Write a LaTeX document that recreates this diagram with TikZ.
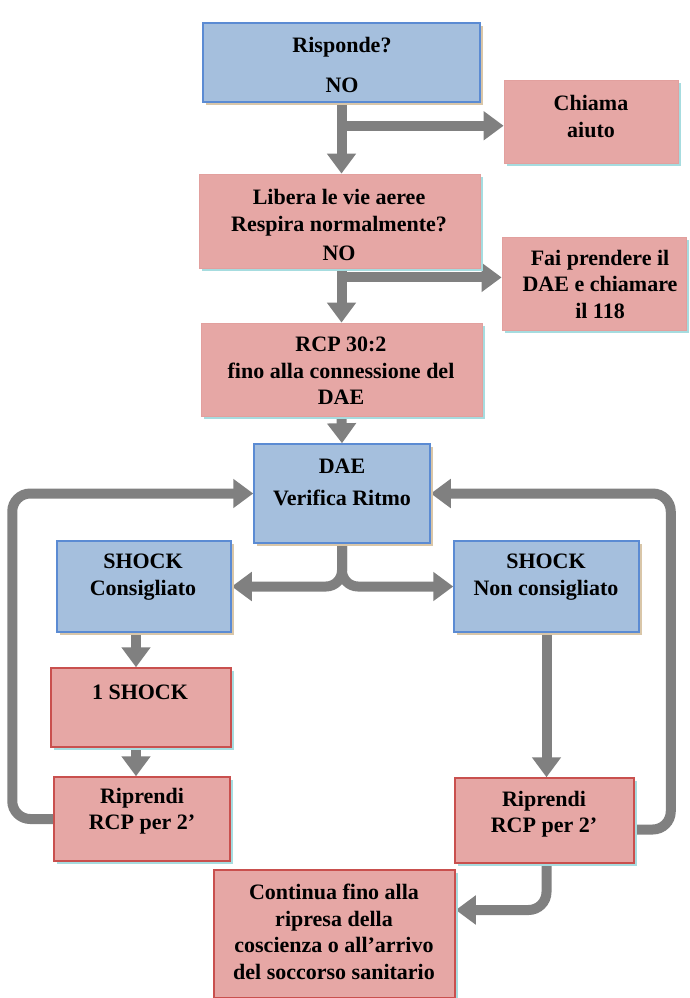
\documentclass[tikz,border=0pt]{standalone}
\usepackage{fontspec}
\setmainfont{Liberation Serif}
\usetikzlibrary{arrows.meta,shadows,backgrounds,calc}
\definecolor{bfill}{HTML}{A5BFDD}
\definecolor{bdraw}{HTML}{5B8BD3}
\definecolor{pfill}{HTML}{E6A7A5}
\definecolor{pedge}{HTML}{E2A09E}
\definecolor{pdraw}{HTML}{C9504E}
\definecolor{tanshadow}{HTML}{D9C6A8}
\definecolor{cyanshadow}{HTML}{A6DCDF}
\definecolor{arrgray}{HTML}{808080}
\tikzset{
  box/.style={rectangle, inner sep=0pt, line width=1.5pt},
  bluebox/.style={box, fill=bfill, draw=bdraw,
    drop shadow={shadow xshift=3pt,shadow yshift=-3pt,fill=tanshadow,opacity=1}},
  pinkbox/.style={box, fill=pfill, draw=pedge, line width=0.8pt,
    drop shadow={shadow xshift=3pt,shadow yshift=-3pt,fill=cyanshadow,opacity=1}},
  redbox/.style={box, fill=pfill, draw=pdraw,
    drop shadow={shadow xshift=3pt,shadow yshift=-3pt,fill=cyanshadow,opacity=1}},
  txt/.style={font=\fontsize{22}{26.5}\selectfont\bfseries, align=center, inner sep=0pt},
  arr/.style={draw=arrgray, line width=10pt, -{Triangle[width=28pt,length=20pt]}},
}
\begin{document}
\begin{tikzpicture}[x=1pt,y=-1pt]
\useasboundingbox (0,0) rectangle (689,998);
% boxes
\node[bluebox, minimum width=277pt, minimum height=79pt] (risp) at (341.5,62.5) {};
\node[pinkbox, minimum width=174pt, minimum height=83pt] (chiama) at (591,121.5) {};
\node[pinkbox, minimum width=281pt, minimum height=94pt] (libera) at (339.5,221) {};
\node[pinkbox, minimum width=184pt, minimum height=93pt] (fai) at (594,283.5) {};
\node[pinkbox, minimum width=281pt, minimum height=93pt] (rcp) at (341.5,369.5) {};
\node[bluebox, minimum width=176pt, minimum height=99pt] (dae) at (342,493.5) {};
\node[bluebox, minimum width=174pt, minimum height=91pt] (sc) at (144,586.5) {};
\node[bluebox, minimum width=185pt, minimum height=91pt] (snc) at (546.5,586.5) {};
\node[redbox, minimum width=180pt, minimum height=79pt] (one) at (141,707.5) {};
\node[redbox, minimum width=176pt, minimum height=84pt] (ripL) at (142,819) {};
\node[redbox, minimum width=179pt, minimum height=85pt] (ripR) at (544.5,820.5) {};
\node[redbox, minimum width=241pt, minimum height=128pt] (cont) at (334.5,934) {};
% texts
\node[txt] (trisp) at (342,65) {Risponde?\\[13.5pt]NO};
\node[txt] (tchiama) at (591,116.5) {Chiama\\aiuto};
\node[txt] (tlibera) at (339,225) {Libera le vie aeree\\Respira normalmente?\\[3pt]NO};
\node[txt] (tfai) at (600,284) {Fai prendere il\\DAE e chiamare\\il 118};
\node[txt] (trcp) at (341,371) {RCP 30:2\\fino alla connessione del\\DAE};
\node[txt] (tdae) at (342,482) {DAE\\[5.5pt]Verifica Ritmo};
\node[txt] (tsc) at (143,577) {SHOCK\\Consigliato};
\node[txt] (tsnc) at (546,577) {SHOCK\\Non consigliato};
\node[txt] (tone) at (140,692) {1 SHOCK};
\node[txt] (tripL) at (142,811) {Riprendi\\RCP per 2’};
\node[txt] (tripR) at (544,814) {Riprendi\\RCP per 2’};
\node[txt] (tcont) at (334,932) {Continua fino alla\\ripresa della\\coscienza o all’arrivo\\del soccorso sanitario};
% connectors
\begin{scope}[on background layer]
\fill[white] (0,0) rectangle (689,998);
\coordinate (b1) at ($(risp.south)+(0,23)$);
\draw[arr] (risp.south) -- (risp.south |- libera.north);
\draw[arr] (b1) -- (b1 -| chiama.west);
\coordinate (s2) at (rcp.north |- libera.south);
\coordinate (b2) at ($(s2)+(0,9)$);
\draw[arr] (s2) -- (rcp.north);
\draw[arr] (b2) -- (b2 -| fai.west);
\draw[arr] (rcp.south) -- (dae.north);
\draw[arr, rounded corners=16pt] (dae.south) |- (sc.east);
\draw[arr, rounded corners=16pt] (dae.south) |- (snc.west);
\draw[arr, rounded corners=18pt] (ripL.west) -- ++(-41,0) |- (dae.west);
\coordinate (rr) at ($(ripR.east)+(0,9)$);
\draw[arr, rounded corners=18pt] (rr) -- ++(36,0) |- (dae.east);
\coordinate (s1) at ([xshift=-8pt]sc.south);
\draw[arr] (s1) -- (s1 |- one.north);
\draw[arr] (one.south -| s1) -- (ripL.north -| s1);
\draw[arr] (snc.south) -- (snc.south |- ripR.north);
\coordinate (ce) at ($(cont.east)+(0,-24)$);
\draw[arr, rounded corners=18pt] (ripR.south -| snc.south) |- (ce);
\end{scope}
\end{tikzpicture}
\end{document}
